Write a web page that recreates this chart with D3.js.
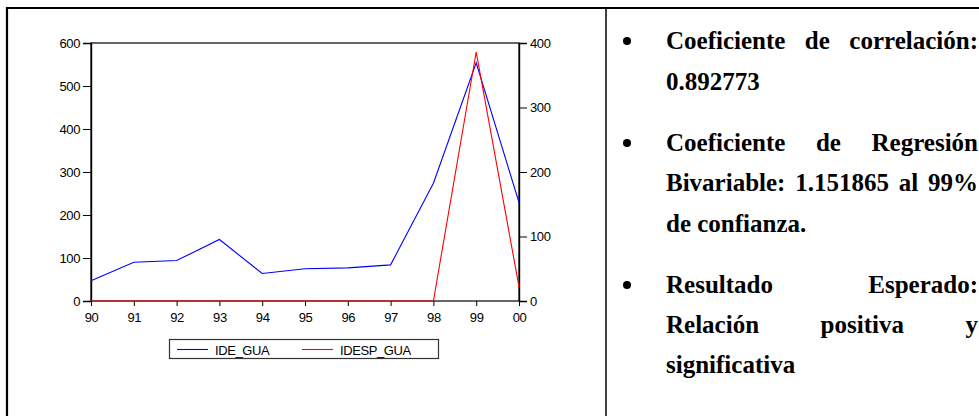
<!DOCTYPE html>
<html><head><meta charset="utf-8">
<script src="https://cdn.jsdelivr.net/npm/d3@7"></script>
<style>
html,body{margin:0;padding:0;background:#fff;}
svg{display:block;}
.ax text{font-family:"Liberation Sans",Arial,sans-serif;font-size:13px;letter-spacing:-0.4px;fill:#000;}
</style></head><body>
<script>
const years = ["90","91","92","93","94","95","96","97","98","99","00"];
const ideGua = [47, 90, 94, 143, 64, 75, 77, 84, 274, 554, 229];
const idespGua = [0, 0, 0, 0, 0, 0, 0, 0, 0, 386, 22];
const leftTicks = [0, 100, 200, 300, 400, 500, 600];
const rightTicks = [0, 100, 200, 300, 400];
const seriesNames = ["IDE_GUA", "IDESP_GUA"];
const seriesColors = ["#0000ff", "#ff0000"];
const textLines = [
  {t:"Coeficiente de correlación:", j:true, bullet:true},
  {t:"0.892773", j:false},
  {t:"Coeficiente de Regresión", j:true, bullet:true},
  {t:"Bivariable: 1.151865 al 99%", j:true},
  {t:"de confianza.", j:false},
  {t:"Resultado Esperado:", j:true, bullet:true},
  {t:"Relación positiva y", j:true},
  {t:"significativa", j:false}
];

const W = 979, H = 416;
const svg = d3.select("body").append("svg").attr("width", W).attr("height", H);
svg.append("rect").attr("width", W).attr("height", H).attr("fill", "#fff");

// table borders
svg.append("line").attr("x1", 6).attr("x2", W).attr("y1", 8).attr("y2", 8).attr("stroke", "#000").attr("stroke-width", 2.2);
svg.append("line").attr("x1", 7).attr("x2", 7).attr("y1", 7).attr("y2", H).attr("stroke", "#000").attr("stroke-width", 2.2);
svg.append("line").attr("x1", 606).attr("x2", 606).attr("y1", 8).attr("y2", H).attr("stroke", "#000").attr("stroke-width", 1.5);

// chart
const L = 91, R = 519, T = 43, B = 301;
const x = d3.scalePoint().domain(years).range([L, R]);
const yL = d3.scaleLinear().domain([0, 600]).range([B, T]);
const yR = d3.scaleLinear().domain([0, 400]).range([B, T]);

svg.append("rect").attr("x", L).attr("y", T).attr("width", R - L).attr("height", B - T)
  .attr("fill", "none").attr("stroke", "#000").attr("stroke-width", 1.2);

const gL = svg.append("g").attr("class", "ax").attr("transform", `translate(${L},0)`)
  .call(d3.axisLeft(yL).tickValues(leftTicks).tickSize(8).tickPadding(3).tickFormat(d3.format("d")));
const gR = svg.append("g").attr("class", "ax").attr("transform", `translate(${R},0)`)
  .call(d3.axisRight(yR).tickValues(rightTicks).tickSize(8).tickPadding(3).tickFormat(d3.format("d")));
const gX = svg.append("g").attr("class", "ax").attr("transform", `translate(0,${B})`)
  .call(d3.axisBottom(x).tickSize(5).tickPadding(7));
[gL, gR, gX].forEach(g => {
  g.select(".domain").attr("stroke", "#000").attr("stroke-width", 1.4);
  g.selectAll(".tick line").attr("stroke", "#000");
  g.selectAll("text").attr("fill", "#000");
});
gX.select(".domain").remove();

const line1 = d3.line().x((d, i) => x(years[i])).y(d => yL(d));
const line2 = d3.line().x((d, i) => x(years[i])).y(d => yR(d));
svg.append("path").attr("d", line1(ideGua)).attr("fill", "none").attr("stroke", seriesColors[0]).attr("stroke-width", 1.1);
svg.append("path").attr("d", line2(idespGua)).attr("fill", "none").attr("stroke", seriesColors[1]).attr("stroke-width", 1.1);

// legend
const lg = svg.append("g").attr("class", "ax");
lg.append("rect").attr("x", 169.5).attr("y", 339.5).attr("width", 269).attr("height", 19)
  .attr("fill", "#fff").attr("stroke", "#333").attr("stroke-width", 1.2);
const legX = [177, 302];
seriesNames.forEach((n, i) => {
  lg.append("line").attr("x1", legX[i]).attr("x2", legX[i] + 31).attr("y1", 349.5).attr("y2", 349.5)
    .attr("stroke", seriesColors[i]).attr("stroke-width", 1.1);
  lg.append("text").attr("x", legX[i] + 38).attr("y", 354.5).text(n);
});

// text panel
const baselines = [49, 90, 151, 191, 232, 293, 333, 373];
const tx0 = 666, tx1 = 978;
const tg = svg.append("g").style("font-family", '"Liberation Serif","Times New Roman",serif')
  .style("font-weight", "bold").style("font-size", "25px");
textLines.forEach((ln, i) => {
  const yb = baselines[i];
  if (ln.bullet) {
    svg.append("circle").attr("cx", 627).attr("cy", yb - 8).attr("r", 4).attr("fill", "#000");
  }
  if (!ln.j) {
    tg.append("text").attr("x", tx0).attr("y", yb).text(ln.t);
  } else {
    const words = ln.t.split(" ");
    const nodes = words.map(w => tg.append("text").attr("y", yb).text(w));
    const widths = nodes.map(n => n.node().getComputedTextLength());
    const sum = d3.sum(widths);
    const gap = (tx1 - tx0 - sum) / (words.length - 1);
    let cx = tx0;
    nodes.forEach((n, k) => { n.attr("x", cx); cx += widths[k] + gap; });
  }
});
</script>
</body></html>
